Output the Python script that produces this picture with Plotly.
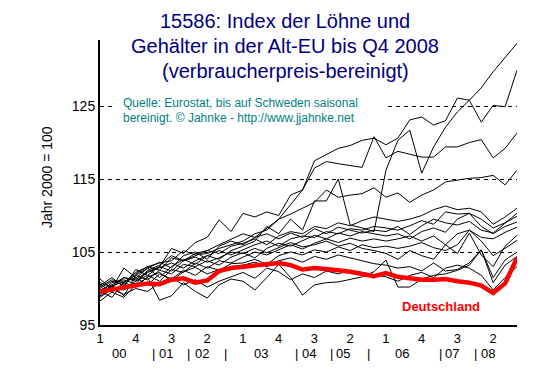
import plotly.graph_objects as go

# ---------------- data ----------------
quarters = [f"{y}Q{q}" for y in range(2000, 2009) for q in range(1, 5)]
tick_positions = quarters[0::3]
tick_text = ["1", "4", "3", "2", "1", "4", "3", "2", "1", "4", "3", "2"]

year_labels = ["00", "|", "01", "|", "02", "|", "03", "|", "04", "|", "05", "|", "06", "|", "07", "|", "08"]
year_label_pos = [1.6, 4.5, 5.55, 7.45, 8.55, 10.5, 13.5, 16.5, 17.55, 19.45, 20.4, 22.5, 25.35, 28.55, 29.55, 31.5, 32.55]

y_ticks = [95, 105, 115, 125]

deutschland = [99.6, 99.9, 100.2, 100.5, 100.7, 100.6, 101.2, 101.4, 100.8, 101.1, 102.4, 102.8,
               103.0, 103.1, 103.3, 103.5, 103.2, 102.6, 102.8, 102.7, 102.5, 102.3, 102.0, 101.7,
               102.1, 101.6, 101.4, 101.2, 101.2, 101.3, 101.0, 100.8, 100.4, 99.4, 100.7, 104.2]

series_a = [100.8, 100.2, 101.5, 101.2, 102.3, 103.0, 105.5, 104.8, 106.3, 107.0, 109.4, 107.8,
            110.3, 109.8, 110.5, 110.0, 112.8, 113.5, 117.5, 118.3, 119.2, 119.6, 120.3, 120.6,
            119.7, 120.6, 123.1, 123.5, 122.4, 123.0, 126.1, 125.8, 127.5, 129.7, 131.7, 133.6]
series_b = [99.2, 100.5, 99.0, 101.8, 102.8, 101.5, 103.0, 104.0, 103.3, 104.5, 104.0, 105.2,
            105.8, 106.5, 108.5, 107.5, 109.5, 108.0, 112.0, 112.0, 115.0, 108.7, 108.3, 107.8,
            116.2, 120.3, 121.7, 115.8, 119.4, 122.1, 124.2, 125.8, 122.8, 125.1, 124.9, 129.9]
series_c = [100.0, 101.0, 100.5, 102.0, 103.0, 103.5, 103.8, 105.2, 104.6, 104.8, 105.5, 106.0,
            106.5, 107.5, 108.0, 109.5, 111.5, 113.5, 116.5, 117.4, 117.1, 116.9, 116.6, 120.8,
            117.9, 118.8, 118.4, 118.0, 118.0, 119.4, 119.4, 120.0, 120.4, 117.9, 119.2, 121.3]
series_d = [99.5, 100.8, 101.2, 100.6, 102.5, 103.2, 104.5, 103.8, 104.8, 105.2, 106.0, 106.8,
            107.5, 107.0, 108.2, 109.5, 110.2, 111.0, 111.8, 113.5, 112.5, 112.8, 113.0, 113.8,
            112.5, 113.1, 111.8, 112.8, 113.5, 114.6, 114.9, 115.1, 115.2, 115.5, 114.2, 116.2]
series_e = [100.2, 101.2, 100.8, 102.2, 103.0, 102.5, 104.2, 103.8, 104.5, 105.2, 104.8, 105.8,
            106.2, 106.8, 106.0, 107.2, 107.8, 107.5, 108.5, 108.2, 109.0, 108.6, 109.3, 109.8,
            109.5, 109.2, 109.5, 110.0, 110.8, 111.3, 110.8, 111.0, 110.5, 108.8, 109.8, 111.0]
series_f = [99.8, 100.5, 101.5, 101.0, 102.2, 102.8, 103.5, 102.8, 103.8, 104.5, 105.2, 104.6,
            105.3, 106.0, 106.5, 105.8, 106.8, 107.2, 107.0, 107.8, 107.5, 108.2, 108.0, 108.5,
            108.3, 108.0, 108.6, 109.3, 108.8, 110.5, 110.2, 110.3, 109.5, 108.3, 109.0, 109.9]
series_g = [100.6, 99.5, 100.8, 101.8, 101.2, 102.5, 102.0, 103.3, 103.0, 103.8, 103.2, 104.3,
            104.9, 104.2, 105.5, 106.2, 105.8, 106.5, 107.3, 106.8, 107.6, 107.2, 107.8, 107.5,
            107.2, 107.5, 106.8, 107.8, 108.3, 107.7, 109.5, 110.3, 108.5, 107.5, 108.5, 109.1]
series_h = [99.0, 100.0, 99.8, 101.0, 101.8, 101.0, 102.6, 102.2, 103.5, 102.8, 103.8, 103.5,
            104.3, 105.0, 104.6, 105.3, 106.0, 105.4, 106.2, 106.8, 106.3, 106.9, 106.5, 106.8,
            106.5, 106.8, 107.2, 106.5, 107.2, 106.0, 107.5, 108.0, 107.0, 106.8, 107.7, 108.4]
series_i = [101.3, 100.0, 102.8, 101.5, 100.5, 102.0, 101.3, 102.5, 101.8, 103.0, 102.5, 103.4,
            103.5, 104.0, 103.3, 104.5, 105.0, 104.6, 105.3, 105.0, 105.7, 105.2, 106.0, 105.6,
            105.8, 105.5, 105.8, 106.3, 105.6, 105.2, 106.0, 108.0, 106.5, 104.5, 105.5, 106.6]
series_j = [98.3, 99.5, 98.8, 100.5, 101.5, 98.4, 99.0, 100.8, 99.6, 98.7, 100.5, 101.3,
            101.0, 99.8, 101.5, 103.3, 101.5, 99.1, 100.5, 100.8, 100.9, 101.3, 101.6, 102.3,
            103.9, 100.2, 100.2, 101.3, 101.8, 102.0, 102.5, 103.2, 105.3, 101.5, 103.9, 105.0]
series_k = [99.6, 98.8, 100.8, 100.2, 101.6, 102.2, 101.0, 102.3, 102.9, 102.0, 102.6, 103.0,
            103.2, 103.6, 103.0, 103.8, 104.2, 103.6, 104.4, 104.0, 104.6, 104.2, 103.8, 103.4,
            103.2, 102.8, 103.0, 102.4, 103.5, 102.4, 102.6, 103.5, 105.3, 100.8, 103.2, 104.4]
series_l = [100.4, 101.5, 100.2, 102.6, 101.8, 103.0, 102.4, 103.8, 104.3, 103.6, 104.2, 105.0,
            104.8, 105.5, 104.9, 105.6, 106.3, 105.7, 106.0, 106.5, 105.8, 106.2, 105.5, 105.2,
            104.8, 104.0, 105.2, 104.5, 104.0, 106.0, 104.8, 107.6, 104.6, 103.0, 105.8, 107.3]
series_m = [99.4, 100.3, 101.0, 101.4, 102.8, 103.6, 102.8, 104.5, 105.0, 104.0, 105.8, 106.5,
            106.0, 107.0, 107.5, 106.8, 107.6, 107.0, 108.2, 107.5, 108.4, 108.0, 107.6, 108.0,
            107.8, 108.5, 107.4, 108.6, 109.5, 109.0, 108.7, 109.2, 108.0, 107.6, 108.9, 110.3]
series_n = [98.8, 99.9, 99.2, 100.0, 99.6, 100.8, 101.5, 100.5, 101.2, 100.2, 101.0, 101.6,
            102.2, 101.4, 102.8, 102.3, 101.2, 102.0, 101.5, 102.4, 102.0, 102.5, 102.2, 101.8,
            101.6, 101.0, 101.8, 102.2, 101.5, 102.8, 103.2, 102.8, 101.8, 99.8, 101.5, 103.0]

other_series = [series_a, series_b, series_c, series_d, series_e, series_f, series_g,
                series_h, series_i, series_j, series_k, series_l, series_m, series_n]

# ---------------- layout helpers ----------------
W, H = 553, 376
PL, PR, PT, PB = 100, 517, 40, 325
Y_MIN, Y_MAX = 95, 134.05
FONT = "Liberation Sans, Arial, sans-serif"


def px_x(px):
    return (px - PL) / (PR - PL)


def px_y(py):
    return (PB - py) / (PB - PT)


def px_to_xidx(px):
    return px_x(px) * (len(quarters) - 1)


def px_to_yval(py):
    return Y_MIN + px_y(py) * (Y_MAX - Y_MIN)


fig = go.Figure()
for s in other_series:
    fig.add_trace(go.Scatter(x=quarters, y=s, mode="lines",
                             line=dict(color="black", width=1), hoverinfo="skip"))
fig.add_trace(go.Scatter(x=quarters, y=deutschland, mode="lines",
                         line=dict(color="#ff0000", width=4.5), name="Deutschland"))

fig.update_layout(
    width=W, height=H,
    margin=dict(l=PL, r=W - PR, t=PT, b=H - PB),
    paper_bgcolor="white", plot_bgcolor="white",
    showlegend=False,
    font=dict(family=FONT, size=13, color="black"),
)
fig.update_xaxes(
    type="category", range=[0, len(quarters) - 1],
    tickmode="array", tickvals=tick_positions, ticktext=tick_text,
    showgrid=False, zeroline=False,
    showline=True, linecolor="black", linewidth=2,
    ticks="", tickfont=dict(size=13, color="black"),
)
fig.update_yaxes(
    range=[Y_MIN, Y_MAX],
    tickmode="array", tickvals=y_ticks,
    showgrid=True, gridcolor="black", gridwidth=1, griddash="4px,4px",
    zeroline=False, showline=True, linecolor="black", linewidth=2,
    ticks="", tickfont=dict(size=14, color="black"),
)

# white box behind the source note (hides the grid line there)
fig.add_shape(type="rect", xref="x", yref="y",
              x0=px_to_xidx(112), x1=px_to_xidx(387),
              y0=px_to_yval(126), y1=px_to_yval(95),
              fillcolor="white", line=dict(width=0), layer="between")

# second row of x labels (years)
for txt, pos in zip(year_labels, year_label_pos):
    fig.add_annotation(x=pos, y=px_y(353), xref="x", yref="paper", text=txt,
                       showarrow=False, xanchor="center", yanchor="middle",
                       font=dict(size=13, color="black"))

# title
title_lines = ["15586: Index der Löhne und",
               "Gehälter in der Alt-EU bis Q4 2008",
               "(verbraucherpreis-bereinigt)"]
for line, yc in zip(title_lines, [21, 46, 71]):
    fig.add_annotation(x=px_x(285), y=px_y(yc), xref="paper", yref="paper", text=line,
                       showarrow=False, xanchor="center", yanchor="middle",
                       font=dict(size=20, color="#000080"))

# source
source_lines = ["Quelle: Eurostat, bis auf Schweden saisonal",
                "bereinigt. © Jahnke - http://www.jjahnke.net"]
for line, yc in zip(source_lines, [103, 118]):
    fig.add_annotation(x=px_x(121), y=px_y(yc), xref="paper", yref="paper", text=line,
                       showarrow=False, xanchor="left", yanchor="middle",
                       font=dict(size=12, color="#008080"))

# y axis title
fig.add_annotation(x=px_x(47), y=px_y(177), xref="paper", yref="paper",
                   text="Jahr 2000 = 100", textangle=-90, showarrow=False,
                   xanchor="center", yanchor="middle", font=dict(size=14, color="black"))

# Deutschland label
fig.add_annotation(x=px_x(441), y=px_y(306), xref="paper", yref="paper",
                   text="<b>Deutschland</b>", showarrow=False,
                   xanchor="center", yanchor="middle", font=dict(size=13, color="#ff0000"))

fig.write_html("out.html", config={"displayModeBar": False},
               post_script="document.body.style.margin='0';")
